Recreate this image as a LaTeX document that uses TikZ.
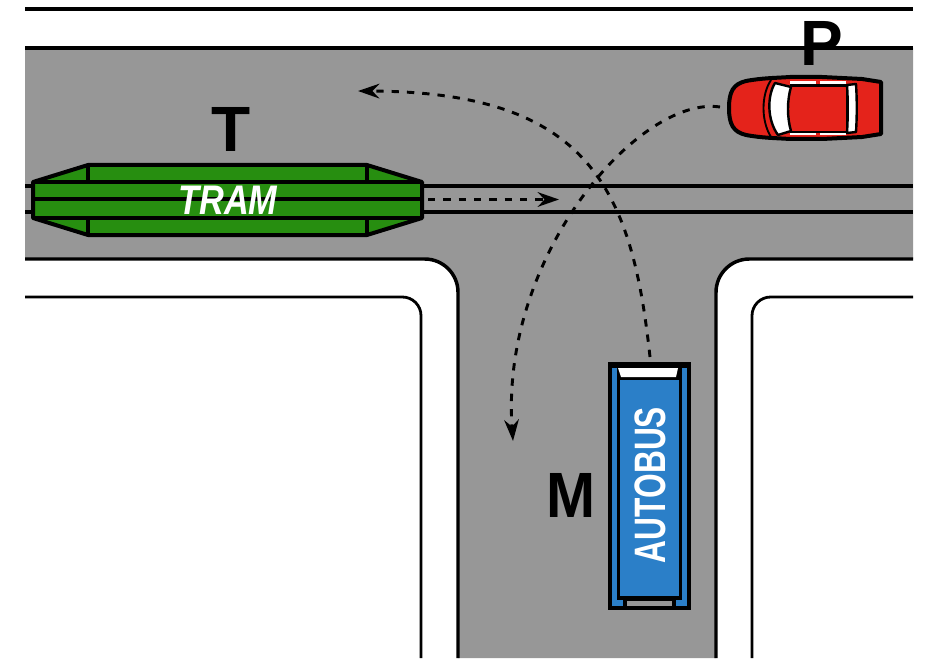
\documentclass[tikz,border=0pt]{standalone}
\usepackage{fontspec}
\setmainfont{Liberation Sans}
\usetikzlibrary{positioning,arrows.meta}

\definecolor{roadgray}{HTML}{979797}
\definecolor{tramgreen}{HTML}{278E10}
\definecolor{carred}{HTML}{E4231B}
\definecolor{busblue}{HTML}{2B7FC8}

\tikzset{
  border/.style={line width=2.6pt},
  thinborder/.style={line width=2.1pt},
  outline/.style={line width=3pt,line join=round},
  move/.style={line width=2.2pt,dash pattern=on 5.5pt off 6pt,-{Stealth[length=16pt,width=11pt]}},
  letter/.style={font=\bfseries\fontsize{48}{48}\selectfont,inner sep=0pt,text=black},
  busname/.style={font=\bfseries\fontsize{33}{33}\selectfont,inner sep=0pt,text=white},
}

\begin{document}
\begin{tikzpicture}[x=.75pt,y=-.75pt]

  \useasboundingbox (0,0) rectangle (941,670);

  % road
  \fill[roadgray] (25,48) -- (913,48) -- (913,259)
    [rounded corners=25pt] -- (716,259) [sharp corners] -- (716,658)
    -- (458,658)
    [rounded corners=25pt] -- (458,259) [sharp corners]
    -- (25,259) -- cycle;

  \draw[border] (25,9) -- (913,9);
  \draw[border] (25,48) -- (913,48);

  % kerbs
  \draw[border,rounded corners=25pt] (25,259) -- (458,259) -- (458,658);
  \draw[border,rounded corners=25pt] (913,259) -- (716,259) -- (716,658);
  \draw[thinborder,rounded corners=14pt] (25,297) -- (421,297) -- (421,658);
  \draw[thinborder,rounded corners=14pt] (913,297) -- (752,297) -- (752,658);

  % rails
  \draw[border] (25,186) -- (913,186);
  \draw[border] (25,212) -- (913,212);

  % tram
  \draw[outline,fill=tramgreen] (33,182) -- (88,165) -- (367,165) -- (422,182)
    -- (422,218) -- (367,235) -- (88,235) -- (33,218) -- cycle;
  \draw[outline] (33,182) -- (422,182);
  \draw[outline] (33,199.5) -- (422,199.5);
  \draw[outline] (33,218) -- (422,218);
  \draw[outline] (88,165) -- (88,182);
  \draw[outline] (88,218) -- (88,235);
  \draw[outline] (367,165) -- (367,182);
  \draw[outline] (367,218) -- (367,235);

  \node[inner sep=0pt,text=white,xscale=.83,font=\bfseries\itshape\fontsize{31}{31}\selectfont] (tram) at (228,200) {TRAM};
  \node[letter,xshift=2.2pt] (t) [above=25.5pt of tram] {T};
  \node[coordinate] (tram0) at (428,199.5) {};
  \node[coordinate] (tram1) at (559,199.5) {};

  % bus
  \fill[black] (608,362) rectangle (691,610);
  \fill[busblue] (612,368) rectangle (687,606);
  \fill[black] (617,366) rectangle (682,600);
  \fill[black] (623,598) rectangle (676,606);
  \fill[white] (618,368) -- (678,368) -- (676,377) -- (621,377) -- cycle;
  \fill[busblue] (620,380) rectangle (679,596);
  \fill[roadgray] (627,601) rectangle (672,606);

  \node[busname,rotate=90,xscale=.72] (bus) at (650,485) {AUTOBUS};
  \node[letter,xscale=.92] (m) at (571,495) {M};
  \node[coordinate] (bus0) at (650,357) {};
  \node[coordinate] (bus1) at (358,91) {};

  % car
  \draw[line width=3pt,fill=carred,line join=round] (729,108)
    .. controls (729,92) and (733,84) .. (746,81)
    .. controls (762,78) and (775,78) .. (790,77)
    -- (822,77) -- (862,79) -- (881,82) -- (881,134) -- (862,137) -- (822,139) -- (790,139)
    .. controls (775,138) and (762,138) .. (746,135)
    .. controls (733,132) and (729,124) .. (729,108) -- cycle;
  \fill[white] (790,81.5) rectangle (816,84);
  \fill[white] (820,81.5) rectangle (846,84);
  \fill[white] (790,133) rectangle (816,135.5);
  \fill[white] (820,133) rectangle (846,135.5);
  \draw[line width=1.6pt] (790,85.5) -- (847,85.5) -- (847,132) -- (790,132);
  \draw[line width=1.4pt] (771,80) .. controls (761,95) and (761,121) .. (771,137);
  \draw[line width=1.8pt,fill=white,line join=round] (775,83) -- (791,87)
    .. controls (787,100) and (787,118) .. (791,131) -- (778,135)
    .. controls (767,120) and (767,96) .. (775,83) -- cycle;
  \draw[line width=1.8pt,fill=white,line join=round] (847,85) -- (856,84)
    .. controls (857,100) and (857,116) .. (856,132) -- (847,133)
    .. controls (848,116) and (848,100) .. (847,85) -- cycle;

  \node[letter] (p) at (822,43) {P};
  \node[coordinate] (car0) at (720,107) {};
  \node[coordinate] (car1) at (513,441) {};

  % paths
  \draw[move] (tram0) -- (tram1);
  \draw[move] (bus0) .. controls (632,190) and (590,92) .. (bus1);
  \draw[move] (car0) .. controls (640,95) and (500,255) .. (car1);

\end{tikzpicture}
\end{document}
